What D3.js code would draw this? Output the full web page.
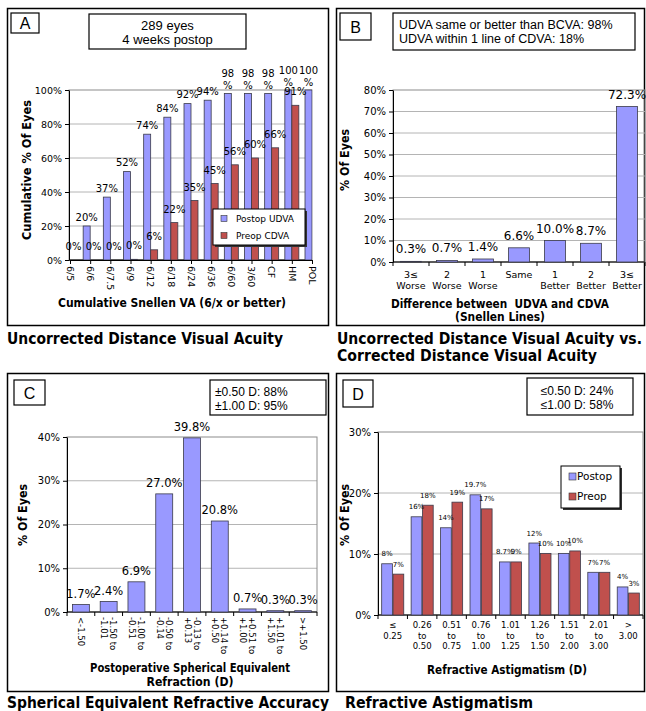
<!DOCTYPE html>
<html lang="en">
<head>
<meta charset="utf-8">
<title>Visual outcomes</title>
<script src="https://cdn.jsdelivr.net/npm/d3@7/dist/d3.min.js"></script>
<style>
  body { margin: 0; background: #fff; }
  text { font-family: "DejaVu Sans", Verdana, sans-serif; fill: #000; }
  .box text { font-family: "Liberation Sans", Arial, sans-serif; }
  .bold { font-weight: bold; }
</style>
</head>
<body>
<div id="chart"></div>
<script>
// ---- data ----
// A: cumulative Snellen VA (6/x or better)
var snellenCats = ["6/5", "6/6", "6/7.5", "6/9", "6/12", "6/18", "6/24", "6/36", "6/60", "3/60", "CF", "HM", "POL"];
var postopUDVA = [null, 20, 37, 52, 74, 84, 92, 94, 98, 98, 98, 100, 100]; // 6/5 bar sits behind the axis
var preopCDVA = [0, 0, 0, 0.4, 6, 22, 35, 45, 56, 60, 66, 91, null];
var ticksA = [0, 20, 40, 60, 80, 100];

// B: difference between UDVA and CDVA
var diffCats = [["3\u2264", "Worse"], ["2", "Worse"], ["1", "Worse"], ["Same"], ["1", "Better"], ["2", "Better"], ["3\u2264", "Better"]];
var diffValues = [0.3, 0.7, 1.4, 6.6, 10.0, 8.7, 72.3];
var ticksB = [0, 10, 20, 30, 40, 50, 60, 70, 80];

// C: postoperative spherical equivalent
var seCats = [["<-1.50"], ["-1.50 to", "-1.01"], ["-1.00 to", "-0.51"], ["-0.50 to", "-0.14"], ["-0.13 to", "+0.13"],
              ["+0.14 to", "+0.50"], ["+0.51 to", "+1.00"], ["+1.01 to", "+1.50"], [">+1.50"]];
var seValues = [1.7, 2.4, 6.9, 27.0, 39.8, 20.8, 0.7, 0.3, 0.3];
var ticksC = [0, 10, 20, 30, 40];

// D: refractive astigmatism
var cylCats = [["\u2264", "0.25"], ["0.26", "to", "0.50"], ["0.51", "to", "0.75"], ["0.76", "to", "1.00"], ["1.01", "to", "1.25"],
               ["1.26", "to", "1.50"], ["1.51", "to", "2.00"], ["2.01", "to", "3.00"], [">", "3.00"]];
var cylPostop = [8.4, 16.1, 14.3, 19.7, 8.7, 11.8, 10.1, 7.0, 4.6];
var cylPreop = [6.7, 18.0, 18.5, 17.4, 8.7, 10.1, 10.5, 7.0, 3.6];
var cylPostopLabels = ["8%", "16%", "14%", "19.7%", "8.7%", "12%", "10%", "7%", "4%"];
var cylPreopLabels = ["7%", "18%", "19%", "17%", "9%", "10%", "10%", "7%", "3%"];
var ticksD = [0, 10, 20, 30];

var BLUE = "#9999ff", RED = "#c0504d", EDGE = "#3a3a4a";

var svg = d3.select("#chart").append("svg")
  .attr("width", 646).attr("height", 711).style("display", "block");
svg.append("rect").attr("width", 646).attr("height", 711).attr("fill", "#fff");

// ---- helpers ----
function frame(x, y, w, h) {
  svg.append("rect").attr("x", x).attr("y", y).attr("width", w).attr("height", h)
    .attr("fill", "none").attr("stroke", "#000").attr("stroke-width", 1.5);
}

function letterBox(x, y, w, h, letter) {
  var g = svg.append("g").attr("class", "box");
  g.append("rect").attr("x", x).attr("y", y).attr("width", w).attr("height", h)
    .attr("fill", "#fff").attr("stroke", "#000").attr("stroke-width", 1.2);
  g.append("text").attr("x", x + w / 2).attr("y", y + h / 2 + 6).attr("text-anchor", "middle")
    .style("font-size", "16px").text(letter);
}

function noteBox(x, y, w, h, lines, tx, anchor, baselines, size) {
  var g = svg.append("g").attr("class", "box");
  g.append("rect").attr("x", x).attr("y", y).attr("width", w).attr("height", h)
    .attr("fill", "#fff").attr("stroke", "#000").attr("stroke-width", 1.2);
  lines.forEach(function(s, i) {
    g.append("text").attr("x", tx).attr("y", baselines[i]).attr("text-anchor", anchor)
      .style("font-size", size + "px").text(s);
  });
}

function boldText(x, y, s, size, len, anchor, rot) {
  var t = svg.append("text").attr("class", "bold")
    .attr("transform", "translate(" + x + "," + y + ")" + (rot ? " rotate(-90)" : ""))
    .attr("text-anchor", anchor || "middle").style("font-size", size + "px").text(s);
  if (len) t.attr("textLength", len).attr("lengthAdjust", "spacingAndGlyphs");
  return t;
}

function plotArea(x0, y0, x1, y1, y, ticks, fs) {
  svg.append("g").selectAll("line").data(ticks.filter(function(d) { return y(d) > y0 + 0.5; }))
    .join("line").attr("x1", x0).attr("x2", x1)
    .attr("y1", function(d) { return y(d); }).attr("y2", function(d) { return y(d); })
    .attr("stroke", "#b4b4b4");
  svg.append("rect").attr("x", x0).attr("y", y0).attr("width", x1 - x0).attr("height", y1 - y0)
    .attr("fill", "none").attr("stroke", "#8c8c8c");
  var ax = svg.append("g").attr("transform", "translate(" + x0 + ",0)")
    .call(d3.axisLeft(y).tickValues(ticks).tickFormat(function(d) { return d + "%"; }).tickSize(4).tickSizeOuter(0));
  ax.select(".domain").attr("stroke", "#000");
  ax.selectAll("text").style("font-size", fs + "px");
  svg.append("line").attr("x1", x0).attr("x2", x1).attr("y1", y1).attr("y2", y1).attr("stroke", "#000");
}

// tick marks between categories of a band scale
function bandTicks(x, y1) {
  var step = x.step(), first = x.range()[0];
  svg.append("g").selectAll("line").data(d3.range(x.domain().length + 1)).join("line")
    .attr("x1", function(i) { return first + i * step; }).attr("x2", function(i) { return first + i * step; })
    .attr("y1", y1).attr("y2", y1 + 4).attr("stroke", "#000");
}

function legend(x, y, w, h, items, fs, sw, tx, rows) {
  svg.append("rect").attr("x", x + 2).attr("y", y + 2).attr("width", w).attr("height", h).attr("fill", "#333");
  svg.append("rect").attr("x", x).attr("y", y).attr("width", w).attr("height", h)
    .attr("fill", "#fff").attr("stroke", "#000");
  items.forEach(function(it, i) {
    svg.append("rect").attr("x", x + 8).attr("y", rows[i] - sw / 2).attr("width", sw).attr("height", sw)
      .attr("fill", it.color).attr("stroke", "#333").attr("stroke-width", 0.6);
    svg.append("text").attr("x", tx).attr("y", rows[i] + fs * 0.36).style("font-size", fs + "px").text(it.name);
  });
}

// ---- Panel A ----
frame(7.5, 8.5, 321, 317);
letterBox(11, 13, 28, 20, "A");
noteBox(89, 14, 157, 35, ["289 eyes", "4 weeks postop"], 167.5, "middle", [29.5, 44], 13);

var xA = d3.scalePoint().domain(snellenCats).range([70, 312]);
var yA = d3.scaleLinear().domain([0, 100]).range([260, 90]);
plotArea(69, 90, 312, 260, yA, ticksA, 9.5);

svg.append("clipPath").attr("id", "clipA").append("rect").attr("x", 69).attr("y", 80).attr("width", 243).attr("height", 180);
var rowsA = snellenCats.map(function(c, i) { return { c: c, post: postopUDVA[i], pre: preopCDVA[i] }; });
var gA = svg.append("g").attr("clip-path", "url(#clipA)");
gA.selectAll("rect.post").data(rowsA.filter(function(d) { return d.post > 0; })).join("rect")
  .attr("x", function(d) { return xA(d.c) - 7; }).attr("width", 7)
  .attr("y", function(d) { return yA(d.post); }).attr("height", function(d) { return yA(0) - yA(d.post); })
  .attr("fill", BLUE).attr("stroke", EDGE).attr("stroke-width", 0.8);
gA.selectAll("rect.pre").data(rowsA.filter(function(d) { return d.pre > 0; })).join("rect")
  .attr("x", function(d) { return xA(d.c); }).attr("width", 7)
  .attr("y", function(d) { return yA(d.pre); }).attr("height", function(d) { return yA(0) - yA(d.pre); })
  .attr("fill", RED).attr("stroke", EDGE).attr("stroke-width", 0.8);

// value labels
rowsA.forEach(function(d) {
  if (d.post !== null) {
    var cx = xA(d.c) - 3.5, top = yA(d.post);
    if (d.post >= 98) {
      svg.append("text").attr("x", cx).attr("y", top - 16).attr("text-anchor", "middle").style("font-size", "10px").text(Math.round(d.post));
      svg.append("text").attr("x", cx).attr("y", top - 4.5).attr("text-anchor", "middle").style("font-size", "10px").text("%");
    } else {
      svg.append("text").attr("x", cx).attr("y", top - 5.5).attr("text-anchor", "middle").style("font-size", "10px").text(Math.round(d.post) + "%");
    }
  }
  if (d.pre !== null) {
    svg.append("text").attr("x", xA(d.c) + 3.5).attr("y", yA(d.pre) - 10).attr("text-anchor", "middle")
      .style("font-size", "10px").text(Math.round(d.pre) + "%");
  }
});

svg.append("g").attr("transform", "translate(0,260)")
  .call(d3.axisBottom(xA).tickSize(4).tickSizeOuter(0).tickFormat(""))
  .select(".domain").attr("stroke", "#000");
svg.append("g").selectAll("text").data(snellenCats).join("text")
  .attr("transform", function(c) { return "translate(" + xA(c) + ",266) rotate(90)"; })
  .attr("dy", "0.35em").style("font-size", "9.5px").text(function(c) { return c; });

legend(213, 209, 92, 36, [{ name: "Postop UDVA", color: BLUE }, { name: "Preop CDVA", color: RED }], 9, 6, 236, [218.5, 235.5]);

boldText(172, 307, "Cumulative Snellen VA (6/x or better)", 11.5, 228);
boldText(31, 170, "Cumulative % Of Eyes", 11.5, 140, "middle", true);
boldText(7, 344, "Uncorrected Distance Visual Acuity", 15, 276, "start");

// ---- Panel B ----
frame(336.5, 8.5, 308, 317);
letterBox(340, 13, 31, 27, "B");
noteBox(393, 13, 242, 37, ["UDVA same or better than BCVA: 98%", "UDVA within 1 line of CDVA: 18%"], 399, "start", [28.5, 43], 12.5);

var xB = d3.scaleBand().domain(d3.range(diffCats.length)).range([393, 645]).paddingInner(0.42).paddingOuter(0.21);
var yB = d3.scaleLinear().domain([0, 80]).range([262, 90]);
plotArea(393, 90, 645, 262, yB, ticksB, 10);
svg.append("g").selectAll("rect").data(diffValues).join("rect")
  .attr("x", function(d, i) { return xB(i); }).attr("width", xB.bandwidth())
  .attr("y", function(d) { return yB(d); }).attr("height", function(d) { return yB(0) - yB(d); })
  .attr("fill", BLUE).attr("stroke", EDGE).attr("stroke-width", 0.8);
svg.append("g").selectAll("text").data(diffValues).join("text")
  .attr("x", function(d, i) { return xB(i) + xB.bandwidth() / 2; }).attr("y", function(d) { return yB(d) - 8; })
  .attr("text-anchor", "middle").style("font-size", "12px").text(function(d) { return d3.format(".1f")(d) + "%"; });
bandTicks(xB, 262);
diffCats.forEach(function(lines, i) {
  lines.forEach(function(s, j) {
    svg.append("text").attr("x", xB(i) + xB.bandwidth() / 2).attr("y", 277.5 + j * 11)
      .attr("text-anchor", "middle").style("font-size", "9.5px").text(s);
  });
});
boldText(500, 308, "Difference between\u00a0 UDVA and CDVA", 11.5, 218);
boldText(500, 320.5, "(Snellen Lines)", 11.5, 90);
boldText(349, 160, "% Of Eyes", 11.5, 62, "middle", true);
boldText(337, 344, "Uncorrected Distance Visual Acuity vs.", 15, 305, "start");
boldText(337, 361, "Corrected Distance Visual Acuity", 15, 260, "start");

// ---- Panel C ----
frame(7.5, 373.5, 321, 318);
letterBox(14, 380, 31, 25, "C");
noteBox(210, 380, 116, 35, ["\u00b10.50 D: 88%", "\u00b11.00 D: 95%"], 215, "start", [396, 409.5], 12);

var xC = d3.scaleBand().domain(d3.range(seCats.length)).range([67, 317]).paddingInner(0.39).paddingOuter(0.195);
var yC = d3.scaleLinear().domain([0, 40]).range([612, 437]);
plotArea(67, 437, 317, 612, yC, ticksC, 10);
svg.append("g").selectAll("rect").data(seValues).join("rect")
  .attr("x", function(d, i) { return xC(i); }).attr("width", xC.bandwidth())
  .attr("y", function(d) { return yC(d); }).attr("height", function(d) { return yC(0) - yC(d); })
  .attr("fill", BLUE).attr("stroke", EDGE).attr("stroke-width", 0.8);
svg.append("g").selectAll("text").data(seValues).join("text")
  .attr("x", function(d, i) { return xC(i) + xC.bandwidth() / 2; }).attr("y", function(d) { return yC(d) - 7; })
  .attr("text-anchor", "middle").style("font-size", "11.5px").text(function(d) { return d3.format(".1f")(d) + "%"; });
bandTicks(xC, 612);
seCats.forEach(function(lines, i) {
  var cx = xC(i) + xC.bandwidth() / 2;
  lines.forEach(function(s, j) {
    var off = (j - (lines.length - 1) / 2) * 9;
    svg.append("text").attr("transform", "translate(" + cx + ",617) rotate(90)")
      .attr("y", off).attr("dy", "0.35em").style("font-size", "8.5px").text(s);
  });
});
boldText(190, 672, "Postoperative Spherical Equivalent", 11.5, 200);
boldText(190, 685.5, "Refraction (D)", 11.5, 87);
boldText(27, 515, "% Of Eyes", 11.5, 62, "middle", true);
boldText(7, 707.5, "Spherical Equivalent Refractive Accuracy", 15, 322, "start");

// ---- Panel D ----
frame(336.5, 373.5, 308, 318);
letterBox(343, 380, 30, 27, "D");
noteBox(527, 378, 106, 37, ["\u22640.50 D: 24%", "\u22641.00 D: 58%"], 577, "middle", [394.5, 408.5], 12);

var xD = d3.scaleBand().domain(d3.range(cylCats.length)).range([378, 643]).paddingInner(0.25).paddingOuter(0.125);
var xD1 = d3.scaleBand().domain(["post", "pre"]).range([0, xD.bandwidth()]).paddingInner(0.06);
var yD = d3.scaleLinear().domain([0, 30]).range([615, 432]);
plotArea(378, 432, 643, 615, yD, ticksD, 10);
var rowsD = cylCats.map(function(c, i) {
  return [{ k: "post", i: i, v: cylPostop[i], lab: cylPostopLabels[i], color: BLUE },
          { k: "pre", i: i, v: cylPreop[i], lab: cylPreopLabels[i], color: RED }];
});
var flatD = [].concat.apply([], rowsD);
svg.append("g").selectAll("rect").data(flatD).join("rect")
  .attr("x", function(d) { return xD(d.i) + xD1(d.k); }).attr("width", xD1.bandwidth())
  .attr("y", function(d) { return yD(d.v); }).attr("height", function(d) { return yD(0) - yD(d.v); })
  .attr("fill", function(d) { return d.color; }).attr("stroke", EDGE).attr("stroke-width", 0.8);
svg.append("g").selectAll("text").data(flatD).join("text")
  .attr("x", function(d) { return xD(d.i) + xD1(d.k) + xD1.bandwidth() / 2; })
  .attr("y", function(d) { return yD(d.v) - 7.5; })
  .attr("text-anchor", "middle").style("font-size", "7px").text(function(d) { return d.lab; });
bandTicks(xD, 615);
cylCats.forEach(function(lines, i) {
  lines.forEach(function(s, j) {
    svg.append("text").attr("x", xD(i) + xD.bandwidth() / 2).attr("y", 628 + j * 10.5)
      .attr("text-anchor", "middle").style("font-size", "8.5px").text(s);
  });
});
legend(561, 466, 59, 42, [{ name: "Postop", color: BLUE }, { name: "Preop", color: RED }], 10.5, 7, 577, [476.5, 496.5]);
boldText(507, 674, "Refractive Astigmatism (D)", 11.5, 160);
boldText(349, 515, "% Of Eyes", 11.5, 62, "middle", true);
boldText(345, 707.5, "Refractive Astigmatism", 15, 188, "start");
</script>
</body>
</html>
